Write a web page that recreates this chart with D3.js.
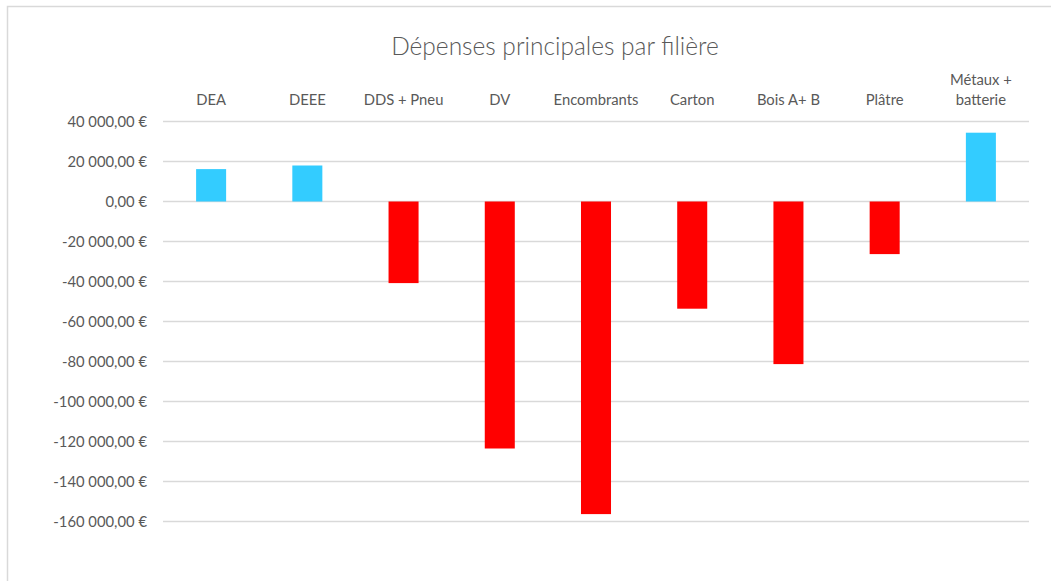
<!DOCTYPE html>
<html>
<head>
<meta charset="utf-8">
<script src="https://cdn.jsdelivr.net/npm/d3@7"></script>
<style>
  body { margin: 0; background: #fff; }
  svg { display: block; font-family: Lato, "Open Sans", sans-serif; }
</style>
</head>
<body>
<svg width="1051" height="581"></svg>
<script>
var categories = ['DEA', 'DEEE', 'DDS + Pneu', 'DV', 'Encombrants', 'Carton', 'Bois A+ B', 'Plâtre', 'Métaux +\nbatterie'];
var values = [16200, 18000, -40800, -123500, -156300, -53600, -81300, -26300, 34400];
var yTicks = [40000, 20000, 0, -20000, -40000, -60000, -80000, -100000, -120000, -140000, -160000];
var title = 'Dépenses principales par filière';

var svg = d3.select('svg'),
    width = 1051,
    height = 581,
    textColor = '#595959';

// chart frame (only left and top visible in the picture)
svg.append('rect')
    .attr('x', 7.5).attr('y', 6.5)
    .attr('width', 1100).attr('height', 700)
    .attr('fill', 'none')
    .attr('stroke', '#d9d9d9')
    .attr('stroke-width', 1.5);

var x = d3.scaleBand().domain(categories).range([163, 1029]).padding(0);
var y = d3.scaleLinear().domain([-160000, 40000]).range([521.5, 121.5]);

var fr = d3.formatLocale({
    decimal: ',',
    thousands: '\u00a0',
    grouping: [3],
    currency: ['', '\u00a0€'],
    minus: '-'
});
var fmt = fr.format('$,.2f');

// gridlines
svg.append('g').selectAll('line')
    .data(yTicks)
    .enter().append('line')
    .attr('x1', 163).attr('x2', 1029)
    .attr('y1', function (d) { return y(d); })
    .attr('y2', function (d) { return y(d); })
    .attr('stroke', '#d9d9d9')
    .attr('stroke-width', 1.3);

// y axis labels
var yAxis = d3.axisLeft(y).tickValues(yTicks).tickFormat(fmt).tickSize(0).tickPadding(0);
var ya = svg.append('g').attr('transform', 'translate(147,0)').call(yAxis);
ya.select('.domain').remove();
ya.selectAll('text')
    .attr('fill', textColor)
    .style('font-size', '14.8px')
    .style('font-family', 'Lato, "Open Sans", sans-serif');

// bars
var barW = x.bandwidth() * 0.312;
svg.append('g').selectAll('rect')
    .data(values)
    .enter().append('rect')
    .attr('x', function (d, i) { return x(categories[i]) + x.bandwidth() / 2 - barW / 2; })
    .attr('y', function (d) { return y(Math.max(0, d)); })
    .attr('width', barW)
    .attr('height', function (d) { return Math.abs(y(d) - y(0)); })
    .attr('fill', function (d) { return d >= 0 ? '#33ccff' : '#ff0000'; });

// category labels at the top
var lab = svg.append('g').selectAll('text')
    .data(categories)
    .enter().append('text')
    .attr('text-anchor', 'middle')
    .attr('fill', textColor)
    .style('font-size', '14.8px');

lab.each(function (d) {
    var lines = d.split('\n');
    var t = d3.select(this);
    var cx = x(d) + x.bandwidth() / 2;
    lines.forEach(function (l, k) {
        t.append('tspan')
            .attr('x', cx)
            .attr('y', 105 - (lines.length - 1 - k) * 20)
            .text(l);
    });
});

// title
svg.append('text')
    .attr('x', 555)
    .attr('y', 55)
    .attr('text-anchor', 'middle')
    .attr('fill', textColor)
    .style('font-size', '24.5px')
    .style('font-weight', 300)
    .text(title);
</script>
</body>
</html>
